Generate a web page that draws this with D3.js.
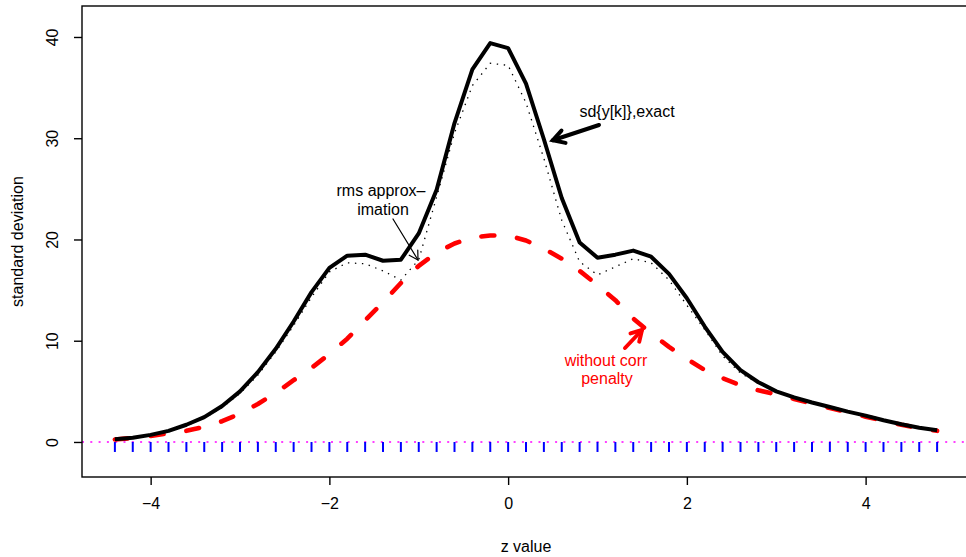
<!DOCTYPE html>
<html>
<head>
<meta charset="utf-8">
<script src="https://cdn.jsdelivr.net/npm/d3@7/dist/d3.min.js"></script>
<style>
  html, body { margin: 0; padding: 0; background: #fff; }
  svg { display: block; font-family: "Liberation Sans", Arial, Helvetica, sans-serif; }
</style>
</head>
<body>
<svg id="chart" width="966" height="557"></svg>
<script>
// ---- data ----
const zValues = [-4.4,-4.2,-4.0,-3.8,-3.6,-3.4,-3.2,-3.0,-2.8,-2.6,-2.4,-2.2,-2.0,-1.8,-1.6,-1.4,-1.2,-1.0,-0.8,-0.6,-0.4,-0.2,0.0,0.2,0.4,0.6,0.8,1.0,1.2,1.4,1.6,1.8,2.0,2.2,2.4,2.6,2.8,3.0,3.2,3.4,3.6,3.8,4.0,4.2,4.4,4.6,4.8];
const sdExact = [0.27,0.42,0.7,1.1,1.7,2.45,3.55,5.0,6.9,9.2,11.9,14.8,17.2,18.4,18.5,17.9,18.0,20.6,24.9,31.5,36.8,39.4,38.9,35.4,29.9,24.1,19.7,18.2,18.5,18.9,18.3,16.6,14.2,11.4,8.9,7.1,5.9,5.0,4.4,3.9,3.45,3.0,2.6,2.15,1.75,1.4,1.15];
const sdRms = [0.25,0.4,0.65,1.05,1.6,2.35,3.4,4.8,6.6,8.9,11.5,14.3,16.8,17.7,17.6,16.9,16.0,18.0,24.2,30.5,35.2,37.4,37.2,33.5,28.0,21.9,17.8,16.5,17.3,18.1,17.7,16.0,13.5,11.1,8.5,6.8,5.8,4.95,4.35,3.85,3.4,2.95,2.55,2.1,1.7,1.35,1.1];
const sdNoCorr = [0.25,0.4,0.6,0.85,1.1,1.5,2.05,2.8,3.75,4.85,6.1,7.3,8.7,10.2,12.0,13.8,15.7,17.4,18.7,19.6,20.2,20.4,20.4,19.9,19.1,18.1,16.9,15.5,14.0,12.2,10.7,9.4,8.2,7.1,6.3,5.6,5.1,4.7,4.25,3.8,3.35,2.95,2.5,2.1,1.7,1.35,1.1];
const xTicks = [-4, -2, 0, 2, 4];
const yTicks = [0, 10, 20, 30, 40];
const xDomain = [-4.768, 5.168];
const yDomain = [-3.46, 43.06];

// ---- layout ----
const svg = d3.select("#chart");
const plot = { left: 82, right: 970, top: 6, bottom: 477 };
const x = d3.scaleLinear().domain(xDomain).range([plot.left, plot.right]);
const y = d3.scaleLinear().domain(yDomain).range([plot.bottom, plot.top]);

// clip
svg.append("defs").append("clipPath").attr("id", "clip")
  .append("rect").attr("x", plot.left).attr("y", plot.top)
  .attr("width", plot.right - plot.left).attr("height", plot.bottom - plot.top);

const g = svg.append("g").attr("clip-path", "url(#clip)");

// horizontal reference at 0 (magenta dotted)
g.append("line")
  .attr("x1", plot.left).attr("x2", plot.right)
  .attr("y1", y(0)).attr("y2", y(0))
  .attr("stroke", "#ff00ff").attr("stroke-width", 1.6)
  .attr("stroke-dasharray", "2 6.3");

// blue rug ticks
g.selectAll("line.rug").data(zValues).enter().append("line")
  .attr("class", "rug")
  .attr("x1", d => x(d)).attr("x2", d => x(d))
  .attr("y1", y(0)).attr("y2", y(0) + 10)
  .attr("stroke", "#0000ff").attr("stroke-width", 2);

const pts = arr => zValues.map((z, i) => [z, arr[i]]);
const line = d3.line().x(d => x(d[0])).y(d => y(d[1]));

// red dashed
g.append("path").datum(pts(sdNoCorr))
  .attr("d", line).attr("fill", "none")
  .attr("stroke", "#ff0000").attr("stroke-width", 4.6)
  .attr("stroke-linecap", "round").attr("stroke-linejoin", "round")
  .attr("stroke-dasharray", "13 23");

// black exact
g.append("path").datum(pts(sdExact))
  .attr("d", line).attr("fill", "none")
  .attr("stroke", "#000").attr("stroke-width", 4)
  .attr("stroke-linejoin", "round");

// dotted rms
g.append("path").datum(pts(sdRms))
  .attr("d", line).attr("fill", "none")
  .attr("stroke", "#000").attr("stroke-width", 1.3)
  .attr("stroke-dasharray", "1.4 5.6");

// box
svg.append("rect")
  .attr("x", plot.left).attr("y", plot.top)
  .attr("width", plot.right - plot.left).attr("height", plot.bottom - plot.top)
  .attr("fill", "none").attr("stroke", "#000").attr("stroke-width", 1.4);

// axes
const xAxis = d3.axisBottom(x).tickValues(xTicks).tickSize(8).tickPadding(13)
  .tickFormat(d => d < 0 ? "\u2212" + Math.abs(d) : String(d));
const xa = svg.append("g").attr("transform", `translate(0,${plot.bottom})`).call(xAxis);
xa.select(".domain").remove();
xa.selectAll(".tick line").attr("stroke", "#000").attr("stroke-width", 1.4);
xa.selectAll(".tick text").attr("font-size", 16).attr("fill", "#000")
  .attr("font-family", "Liberation Sans, Arial, sans-serif");

const yAxis = d3.axisLeft(y).tickValues(yTicks).tickSize(8).tickFormat(d => String(d));
const ya = svg.append("g").attr("transform", `translate(${plot.left},0)`).call(yAxis);
ya.select(".domain").remove();
ya.selectAll(".tick line").attr("stroke", "#000").attr("stroke-width", 1.4);
ya.selectAll(".tick text")
  .attr("font-size", 16).attr("fill", "#000")
  .attr("font-family", "Liberation Sans, Arial, sans-serif")
  .attr("x", null).attr("dy", null)
  .attr("text-anchor", "middle")
  .attr("transform", "translate(-24,0) rotate(-90)")
  .attr("y", 0);

// axis titles
svg.append("text").attr("x", (plot.left + plot.right) / 2).attr("y", 552)
  .attr("text-anchor", "middle").attr("font-size", 16).text("z value");
svg.append("text")
  .attr("transform", `translate(23,${(plot.top + plot.bottom) / 2}) rotate(-90)`)
  .attr("text-anchor", "middle").attr("font-size", 16).text("standard deviation");

// annotations
function arrow(x0, y0, x1, y1, color, width, headLen) {
  const a = svg.append("g").attr("stroke", color).attr("stroke-width", width)
    .attr("stroke-linecap", "round").attr("fill", "none");
  a.append("line").attr("x1", x0).attr("y1", y0).attr("x2", x1).attr("y2", y1);
  const ang = Math.atan2(y1 - y0, x1 - x0);
  const spread = Math.PI / 6;
  const h1 = [x1 - headLen * Math.cos(ang - spread), y1 - headLen * Math.sin(ang - spread)];
  const h2 = [x1 - headLen * Math.cos(ang + spread), y1 - headLen * Math.sin(ang + spread)];
  a.append("path").attr("d", `M${h1[0]},${h1[1]}L${x1},${y1}L${h2[0]},${h2[1]}`)
    .attr("stroke-linejoin", "miter");
}

// sd exact label
svg.append("text").attr("x", 627).attr("y", 117).attr("text-anchor", "middle")
  .attr("font-size", 16).text("sd{y[k]},exact");
arrow(599, 125, x(0.5), y(29.8), "#000", 4, 13);

// rms label
svg.append("text").attr("x", 381).attr("y", 196).attr("text-anchor", "middle")
  .attr("font-size", 16).text("rms approx\u2013");
svg.append("text").attr("x", 383).attr("y", 215).attr("text-anchor", "middle")
  .attr("font-size", 16).text("imation");
arrow(393, 219, 418, 260, "#000", 1.2, 10);

// without corr label
svg.append("text").attr("x", 606).attr("y", 366).attr("text-anchor", "middle")
  .attr("font-size", 16).attr("fill", "#ff0000").text("without corr");
svg.append("text").attr("x", 607).attr("y", 384).attr("text-anchor", "middle")
  .attr("font-size", 16).attr("fill", "#ff0000").text("penalty");
arrow(625, 348, 642, 330, "#ff0000", 4, 12);
</script>
</body>
</html>
